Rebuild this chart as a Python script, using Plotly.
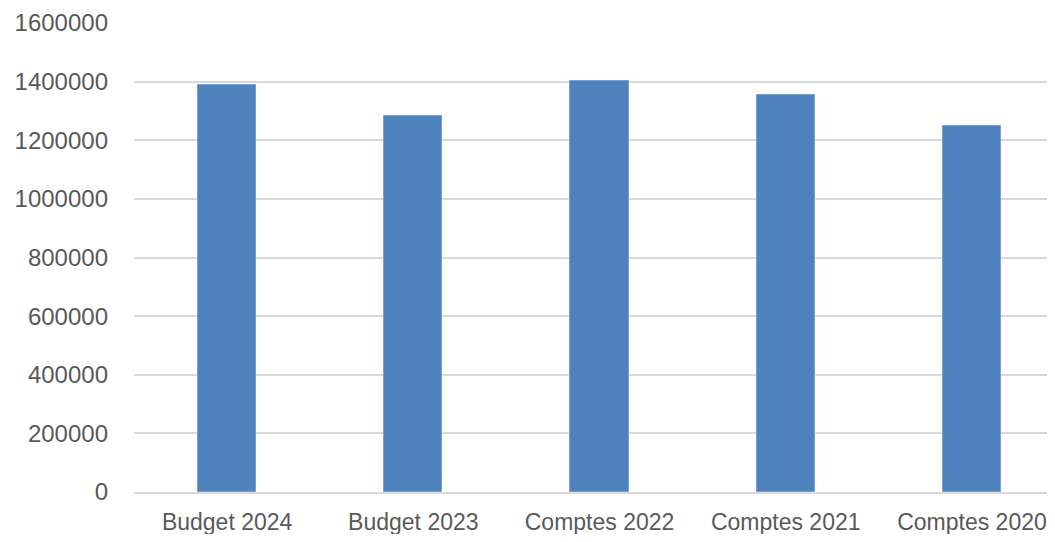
import plotly.graph_objects as go

categories = ["Budget 2024", "Budget 2023", "Comptes 2022", "Comptes 2021", "Comptes 2020"]
values = [1390000, 1284000, 1401000, 1355000, 1248000]
y_ticks = [0, 200000, 400000, 600000, 800000, 1000000, 1200000, 1400000, 1600000]
y_tick_labels = [str(v) for v in y_ticks]

fig = go.Figure()
fig.add_trace(go.Bar(
    x=categories,
    y=values,
    width=0.312,
    marker=dict(color="#4F81BD", line=dict(color="#7aa0d0", width=1)),
))

font = dict(family="Liberation Sans, Arial, sans-serif", size=24, color="#595959")
xfont = dict(family="Liberation Sans, Arial, sans-serif", size=23, color="#595959")

# page body has an 8px default margin on every side, so the figure is sized to fit inside it
fig.update_layout(
    width=1039,
    height=526,
    margin=dict(l=126, r=0, t=15, b=42),
    paper_bgcolor="white",
    plot_bgcolor="white",
    showlegend=False,
    bargap=0,
    font=font,
    xaxis=dict(
        type="category",
        range=[-0.5, 4.403],
        showgrid=False,
        showline=True,
        linecolor="#d9d9d9",
        linewidth=2,
        ticks="",
        tickfont=xfont,
        ticklabelstandoff=8,
        automargin=False,
    ),
    yaxis=dict(
        range=[0, 1600000],
        tickvals=y_ticks,
        ticktext=y_tick_labels,
        showgrid=True,
        gridcolor="#d9d9d9",
        gridwidth=2,
        zeroline=False,
        showline=False,
        ticks="",
        tickfont=font,
        ticklabelstandoff=25,
        automargin=False,
    ),
)

fig.write_html("out.html")
